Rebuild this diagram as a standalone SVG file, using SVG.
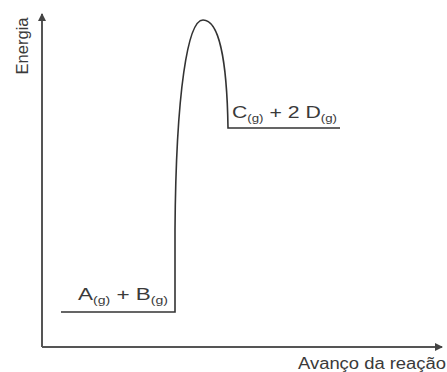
<svg xmlns="http://www.w3.org/2000/svg" width="447" height="372" viewBox="0 0 447 372">
<style>
.t{font-family:"Liberation Sans",Arial,sans-serif;fill:#3a3a3a;font-size:16px}
.s{font-size:10px}
.ax{stroke:#555;stroke-width:2;fill:none}
.cv{stroke:#333;stroke-width:1.6;fill:none}
</style>
<defs>
<marker id="ah" markerWidth="8" markerHeight="8" refX="7" refY="4" orient="auto" markerUnits="userSpaceOnUse">
<path d="M0,0 L8,4 L0,8 Z" fill="#444"/>
</marker>
</defs>
<rect width="447" height="372" fill="#fff"/>
<g id="connectors">
<line class="ax" x1="42" y1="347" x2="42" y2="14" marker-end="url(#ah)"/>
<line class="ax" x1="42" y1="347" x2="442" y2="347" marker-end="url(#ah)"/>
<path id="curve" class="cv" d="M61,312 L175,312 L175,230 C176,90 188,20 203,20 C219,20 227,60 228,128 L340,128"/>
</g>
<g id="energia"><text class="t" transform="translate(28,46) rotate(-90)" text-anchor="middle" font-size="15" textLength="57" lengthAdjust="spacingAndGlyphs">Energia</text></g>
<g id="avanco"><text class="t" x="298" y="369" font-size="15" textLength="148" lengthAdjust="spacingAndGlyphs">Avanço da reação</text></g>
<g id="reagentes"><text class="t" x="78" y="300" textLength="90" lengthAdjust="spacingAndGlyphs">A<tspan class="s" dy="4">(g)</tspan><tspan dy="-4"> + B</tspan><tspan class="s" dy="4">(g)</tspan></text></g>
<g id="produtos"><text class="t" x="232" y="118" textLength="105" lengthAdjust="spacingAndGlyphs">C<tspan class="s" dy="4">(g)</tspan><tspan dy="-4"> + 2 D</tspan><tspan class="s" dy="4">(g)</tspan></text></g>
</svg>
